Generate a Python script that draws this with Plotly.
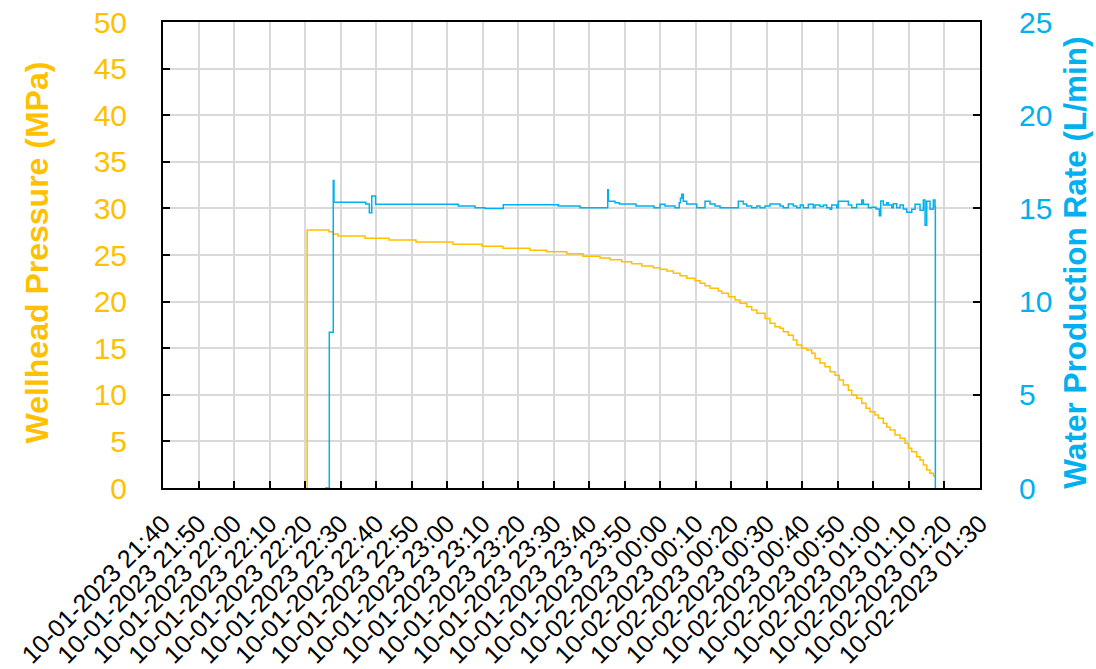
import plotly.graph_objects as go

# ---------------- data ----------------
PRESSURE_TIME = [
    "22:20:30", "22:20:35", "22:26:44", "22:27:52", "22:29:16", "22:36:52", "22:43:38", "22:51:14",
    "23:01:38", "23:09:49", "23:15:43", "23:23:19", "23:28:01", "23:33:39", "23:38:14", "23:43:02",
    "23:45:50", "23:49:08", "23:51:57", "23:54:46", "23:58:02", "23:59:55", "00:01:48", "00:03:40",
    "00:05:33", "00:07:26", "00:09:46", "00:11:11", "00:12:35", "00:14:00", "00:16:20", "00:17:17",
    "00:19:09", "00:21:02", "00:22:26", "00:24:20", "00:25:44", "00:27:09", "00:29:29", "00:30:53",
    "00:32:18", "00:33:43", "00:34:38", "00:36:03", "00:37:27", "00:38:25", "00:39:49", "00:41:13",
    "00:42:38", "00:43:34", "00:44:58", "00:46:22", "00:47:47", "00:49:11", "00:50:24", "00:51:32",
    "00:52:56", "00:53:53", "00:55:18", "00:56:43", "00:57:55", "00:59:02", "01:00:27", "01:01:23",
    "01:02:47", "01:03:45", "01:04:40", "01:06:05", "01:07:29", "01:08:54", "01:09:50", "01:10:47",
    "01:12:11", "01:13:07", "01:14:03", "01:15:00", "01:15:56", "01:16:52", "01:17:32",
]
PRESSURE_MPA = [
    0, 27.68, 27.5, 27.25, 27.04, 26.79, 26.6, 26.4,
    26.15, 25.95, 25.72, 25.5, 25.36, 25.14, 24.86, 24.68,
    24.5, 24.28, 24.07, 23.82, 23.64, 23.46, 23.28, 23.03,
    22.78, 22.5, 22.24, 21.96, 21.7, 21.42, 21.14, 20.89,
    20.53, 20.17, 19.82, 19.45, 19.1, 18.74, 18.2, 17.67,
    17.3, 17.13, 16.77, 16.4, 15.88, 15.34, 14.99, 14.8,
    14.45, 13.9, 13.4, 13.0, 12.48, 12.1, 11.6, 11.05,
    10.5, 9.98, 9.62, 9.08, 8.55, 8.19, 7.83, 7.48,
    6.94, 6.55, 6.22, 5.69, 5.33, 4.8, 4.26, 3.9,
    3.36, 3.0, 2.47, 1.93, 1.57, 1.29, 1.29,
]

WATER_TIME = [
    "22:25:37", "22:26:49", "22:27:56", "22:28:08", "22:37:04", "22:38:05", "22:38:46", "22:39:50",
    "23:03:08", "23:07:50", "23:10:39", "23:15:48", "23:31:17", "23:37:24", "23:45:12", "23:45:22",
    "23:47:15", "23:48:28", "23:53:10", "23:58:14", "23:59:55", "00:01:20", "00:04:08", "00:05:20",
    "00:05:40", "00:06:02", "00:06:29", "00:07:26", "00:10:15", "00:12:35", "00:14:00", "00:15:25",
    "00:16:49", "00:21:58", "00:23:22", "00:24:20", "00:25:44", "00:27:09", "00:28:04", "00:29:29",
    "00:30:53", "00:33:43", "00:34:38", "00:36:03", "00:37:27", "00:38:25", "00:39:24", "00:40:16",
    "00:41:40", "00:43:05", "00:43:34", "00:44:58", "00:45:54", "00:46:51", "00:47:47", "00:48:15",
    "00:49:40", "00:50:07", "00:52:56", "00:53:53", "00:55:18", "00:56:43", "00:57:10", "00:58:34",
    "00:59:31", "01:00:44", "01:01:40", "01:02:04", "01:02:47", "01:03:45", "01:04:12", "01:05:09",
    "01:05:36", "01:06:34", "01:07:29", "01:08:25", "01:09:22", "01:10:47", "01:11:43", "01:13:07",
    "01:14:03", "01:14:32", "01:15:00", "01:15:56", "01:16:52", "01:17:20", "01:17:26",
]
WATER_RATE_LPM = [
    0, 8.35, 16.5, 15.33, 15.24, 14.77, 15.67, 15.22,
    15.13, 15.04, 15.0, 15.2, 15.13, 15.04, 16.0, 15.38,
    15.3, 15.24, 15.13, 15.04, 15.22, 15.13, 15.04, 15.3,
    15.55, 15.76, 15.38, 15.24, 15.04, 15.38, 15.24, 15.13,
    15.04, 15.38, 15.24, 15.13, 15.04, 15.13, 15.04, 15.13,
    15.24, 15.13, 15.04, 15.24, 15.13, 15.04, 15.18, 15.04,
    15.22, 15.04, 15.18, 15.1, 15.18, 15.04, 14.95, 15.18,
    15.04, 15.38, 15.18, 15.04, 15.22, 15.45, 15.22, 15.04,
    15.06, 14.97, 14.6, 15.4, 15.18, 15.3, 15.18, 15.04,
    15.25, 15.04, 15.18, 14.97, 14.8, 14.95, 15.22, 14.9,
    15.45, 14.1, 15.38, 14.95, 15.45, 15.1, 0,
]

X_START = "2023-10-01 21:40:00"
X_END = "2023-10-02 01:30:00"
LEFT_TITLE = "Wellhead Pressure (MPa)"
RIGHT_TITLE = "Water Production Rate (L/min)"

ORANGE = "#FFC000"
BLUE = "#00B0F0"
FONT = "Liberation Sans, Arial, sans-serif"


def stamp(hms):
    day = "2023-10-01" if int(hms[:2]) >= 12 else "2023-10-02"
    return f"{day} {hms}"


fig = go.Figure()
fig.add_trace(go.Scatter(
    x=[stamp(t) for t in PRESSURE_TIME], y=PRESSURE_MPA, mode="lines",
    line=dict(color=ORANGE, width=1.5, shape="hv"), name=LEFT_TITLE, yaxis="y",
))
fig.add_trace(go.Scatter(
    x=[stamp(t) for t in WATER_TIME], y=WATER_RATE_LPM, mode="lines",
    line=dict(color=BLUE, width=1.5, shape="hv"), name=RIGHT_TITLE, yaxis="y2",
))

fig.update_layout(
    width=1096, height=669,
    margin=dict(l=163, r=116, t=22, b=181, autoexpand=False),
    paper_bgcolor="white", plot_bgcolor="white",
    showlegend=False,
    font=dict(family=FONT, color="black"),
    xaxis=dict(
        type="date", range=[X_START, X_END], automargin=False,
        tick0=X_START, dtick=600000, tickformat="%m-%d-%Y %H:%M",
        tickangle=-45, tickfont=dict(size=25, color="black"),
        ticks="inside", ticklen=7, tickwidth=2, tickcolor="black",
        showline=True, linecolor="black", linewidth=2, mirror=True,
        showgrid=True, gridcolor="#D9D9D9", gridwidth=2,
        zeroline=False, ticklabelstandoff=9,
    ),
    yaxis=dict(
        range=[0, 50], dtick=5, tick0=0, automargin=False,
        tickfont=dict(size=30, color=ORANGE),
        ticks="inside", ticklen=7, tickwidth=2, tickcolor="black",
        showline=True, linecolor="black", linewidth=2, mirror=True,
        showgrid=True, gridcolor="#D9D9D9", gridwidth=2,
        zeroline=False, ticklabelstandoff=28,
    ),
    yaxis2=dict(
        range=[0, 25], dtick=5, tick0=0, overlaying="y", side="right", automargin=False,
        tickfont=dict(size=30, color=BLUE),
        ticks="inside", ticklen=7, tickwidth=2, tickcolor="black",
        showline=True, linecolor="black", linewidth=2,
        showgrid=False, zeroline=False, ticklabelstandoff=31,
    ),
    annotations=[
        dict(text=f"<b>{LEFT_TITLE}</b>", xref="paper", yref="paper",
             x=-0.154, y=0.506, xanchor="center", yanchor="middle", textangle=-90,
             showarrow=False, font=dict(family=FONT, size=32, color=ORANGE)),
        dict(text=f"<b>{RIGHT_TITLE}</b>", xref="paper", yref="paper",
             x=1.116, y=0.483, xanchor="center", yanchor="middle", textangle=-90,
             showarrow=False, font=dict(family=FONT, size=31.5, color=BLUE)),
    ],
)

fig.write_html("out.html")
